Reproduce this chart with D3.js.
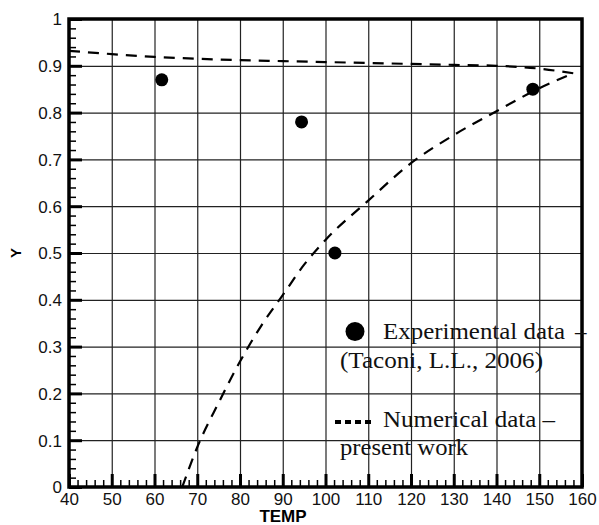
<!DOCTYPE html>
<html>
<head>
<meta charset="utf-8">
<script src="https://cdn.jsdelivr.net/npm/d3@7"></script>
<style>
    body { margin: 0; background: #ffffff; }
    svg { display: block; }
    .tick-label { font-family: "Liberation Sans", Arial, sans-serif; font-size: 17px; fill: #111; }
    .legend-text { font-family: "Liberation Serif", "Times New Roman", serif; font-size: 23px; fill: #111; }
</style>
</head>
<body>
<svg id="chart-svg" width="599" height="525"></svg>
<script>

// the data
var tempTicks = [40, 50, 60, 70, 80, 90, 100, 110, 120, 130, 140, 150, 160];
var yTicks = [0, 0.1, 0.2, 0.3, 0.4, 0.5, 0.6, 0.7, 0.8, 0.9, 1];

var expTemp = [61.7, 94.4, 102.2, 148.5];
var expY = [0.87, 0.78, 0.50, 0.85];

// numerical data, upper branch
var numUpperTemp = [40, 50, 60, 70, 80, 90, 100, 110, 120, 130, 140, 150, 158];
var numUpperY = [0.932, 0.925, 0.919, 0.915, 0.912, 0.910, 0.908, 0.906, 0.904, 0.902, 0.900, 0.894, 0.884];

// numerical data, lower branch
var numLowerTemp = [66.5, 70, 75, 80, 85, 90, 95, 100, 110, 120, 130, 140, 150, 158];
var numLowerY = [0, 0.085, 0.18, 0.268, 0.345, 0.41, 0.475, 0.528, 0.612, 0.692, 0.752, 0.803, 0.852, 0.884];


var svg = d3.select("#chart-svg");

// plot box (note: "top" is taken by window.top)
var plotLeft = 69, plotRight = 582, plotTop = 19, plotBottom = 487;

var x = d3.scaleLinear().domain([40, 160]).range([plotLeft, plotRight]);
var y = d3.scaleLinear().domain([0, 1]).range([plotBottom, plotTop]);

// grid lines
svg.append("g")
    .attr("transform", "translate(0," + plotBottom + ")")
    .call(d3.axisBottom(x).tickValues(tempTicks).tickSize(-(plotBottom - plotTop)).tickFormat(""))
    .call(function (g) { g.select(".domain").remove(); })
    .selectAll("line")
        .attr("stroke", "#222")
        .attr("stroke-width", 1.2);

svg.append("g")
    .attr("transform", "translate(" + plotLeft + ",0)")
    .call(d3.axisLeft(y).tickValues(yTicks).tickSize(-(plotRight - plotLeft)).tickFormat(""))
    .call(function (g) { g.select(".domain").remove(); })
    .selectAll("line")
        .attr("stroke", "#222")
        .attr("stroke-width", 1.2);

// minor ticks (inward)
var minorX = d3.range(40, 160.01, 2).filter(function (d) { return d % 10 !== 0; });
var minorY = d3.range(0, 1.001, 0.02).filter(function (d) { return Math.round(d * 100) % 10 !== 0; });

svg.append("g")
    .attr("transform", "translate(0," + plotBottom + ")")
    .call(d3.axisBottom(x).tickValues(minorX).tickSize(-7).tickFormat(""))
    .call(function (g) { g.select(".domain").remove(); })
    .selectAll("line")
        .attr("stroke", "#000")
        .attr("stroke-width", 1.5);

svg.append("g")
    .attr("transform", "translate(" + plotLeft + ",0)")
    .call(d3.axisLeft(y).tickValues(minorY).tickSize(-7).tickFormat(""))
    .call(function (g) { g.select(".domain").remove(); })
    .selectAll("line")
        .attr("stroke", "#000")
        .attr("stroke-width", 1.5);

// major ticks + labels
var xAxis = svg.append("g")
    .attr("transform", "translate(0," + plotBottom + ")")
    .call(d3.axisBottom(x).tickValues(tempTicks).tickSize(-13));
xAxis.select(".domain").remove();
xAxis.selectAll("line").attr("stroke", "#000").attr("stroke-width", 3);
xAxis.selectAll("text")
    .attr("class", "tick-label")
    .attr("y", 18)
    .attr("dy", 0);

var yAxis = svg.append("g")
    .attr("transform", "translate(" + plotLeft + ",0)")
    .call(d3.axisLeft(y).tickValues(yTicks).tickSize(-13)
        .tickFormat(function (d) { return d === 0 || d === 1 ? d3.format("d")(d) : d3.format(".1f")(d); }));
yAxis.select(".domain").remove();
yAxis.selectAll("line").attr("stroke", "#000").attr("stroke-width", 3);
yAxis.selectAll("text")
    .attr("class", "tick-label")
    .attr("x", -7)
    .attr("dy", "0.35em");

// frame
svg.append("rect")
    .attr("x", plotLeft)
    .attr("y", plotTop)
    .attr("width", plotRight - plotLeft)
    .attr("height", plotBottom - plotTop)
    .attr("fill", "none")
    .attr("stroke", "#000")
    .attr("stroke-width", 3.5);

// numerical curves
var line = d3.line()
    .x(function (d) { return x(d[0]); })
    .y(function (d) { return y(d[1]); })
    .curve(d3.curveMonotoneX);

[[numUpperTemp, numUpperY], [numLowerTemp, numLowerY]].forEach(function (s) {
    svg.append("path")
        .datum(d3.zip(s[0], s[1]))
        .attr("d", line)
        .attr("fill", "none")
        .attr("stroke", "#000")
        .attr("stroke-width", 2.2)
        .attr("stroke-dasharray", "11,8");
});

// experimental points
svg.append("g")
    .selectAll("circle")
    .data(d3.zip(expTemp, expY))
    .enter()
    .append("circle")
        .attr("cx", function (d) { return x(d[0]); })
        .attr("cy", function (d) { return y(d[1]); })
        .attr("r", 6.5)
        .attr("fill", "#000");

// legend
var legend = svg.append("g");
legend.append("circle").attr("cx", 355).attr("cy", 331.5).attr("r", 9.5).attr("fill", "#000");
legend.append("text").attr("class", "legend-text").attr("x", 383).attr("y", 339)
    .attr("textLength", 182).attr("lengthAdjust", "spacingAndGlyphs").text("Experimental data");
legend.append("text").attr("class", "legend-text").attr("x", 575).attr("y", 339).text("–");
legend.append("text").attr("class", "legend-text").attr("x", 340).attr("y", 368)
    .attr("textLength", 203).attr("lengthAdjust", "spacingAndGlyphs").text("(Taconi, L.L., 2006)");
legend.append("line").attr("x1", 335).attr("x2", 371).attr("y1", 422).attr("y2", 422)
    .attr("stroke", "#000").attr("stroke-width", 4).attr("stroke-dasharray", "6,4");
legend.append("text").attr("class", "legend-text").attr("x", 383).attr("y", 427)
    .attr("textLength", 172).attr("lengthAdjust", "spacingAndGlyphs").text("Numerical data –");
legend.append("text").attr("class", "legend-text").attr("x", 340).attr("y", 455)
    .attr("textLength", 128).attr("lengthAdjust", "spacingAndGlyphs").text("present work");

// axis titles
svg.append("text")
    .attr("x", 283)
    .attr("y", 522)
    .attr("text-anchor", "middle")
    .attr("font-family", "Liberation Sans, Arial, sans-serif")
    .attr("font-weight", "bold")
    .attr("font-size", 17)
    .text("TEMP");

svg.append("text")
    .attr("transform", "translate(21,253) rotate(-90)")
    .attr("text-anchor", "middle")
    .attr("font-family", "Liberation Sans, Arial, sans-serif")
    .attr("font-weight", "bold")
    .attr("font-size", 15)
    .text("Y");

</script>
</body>
</html>
